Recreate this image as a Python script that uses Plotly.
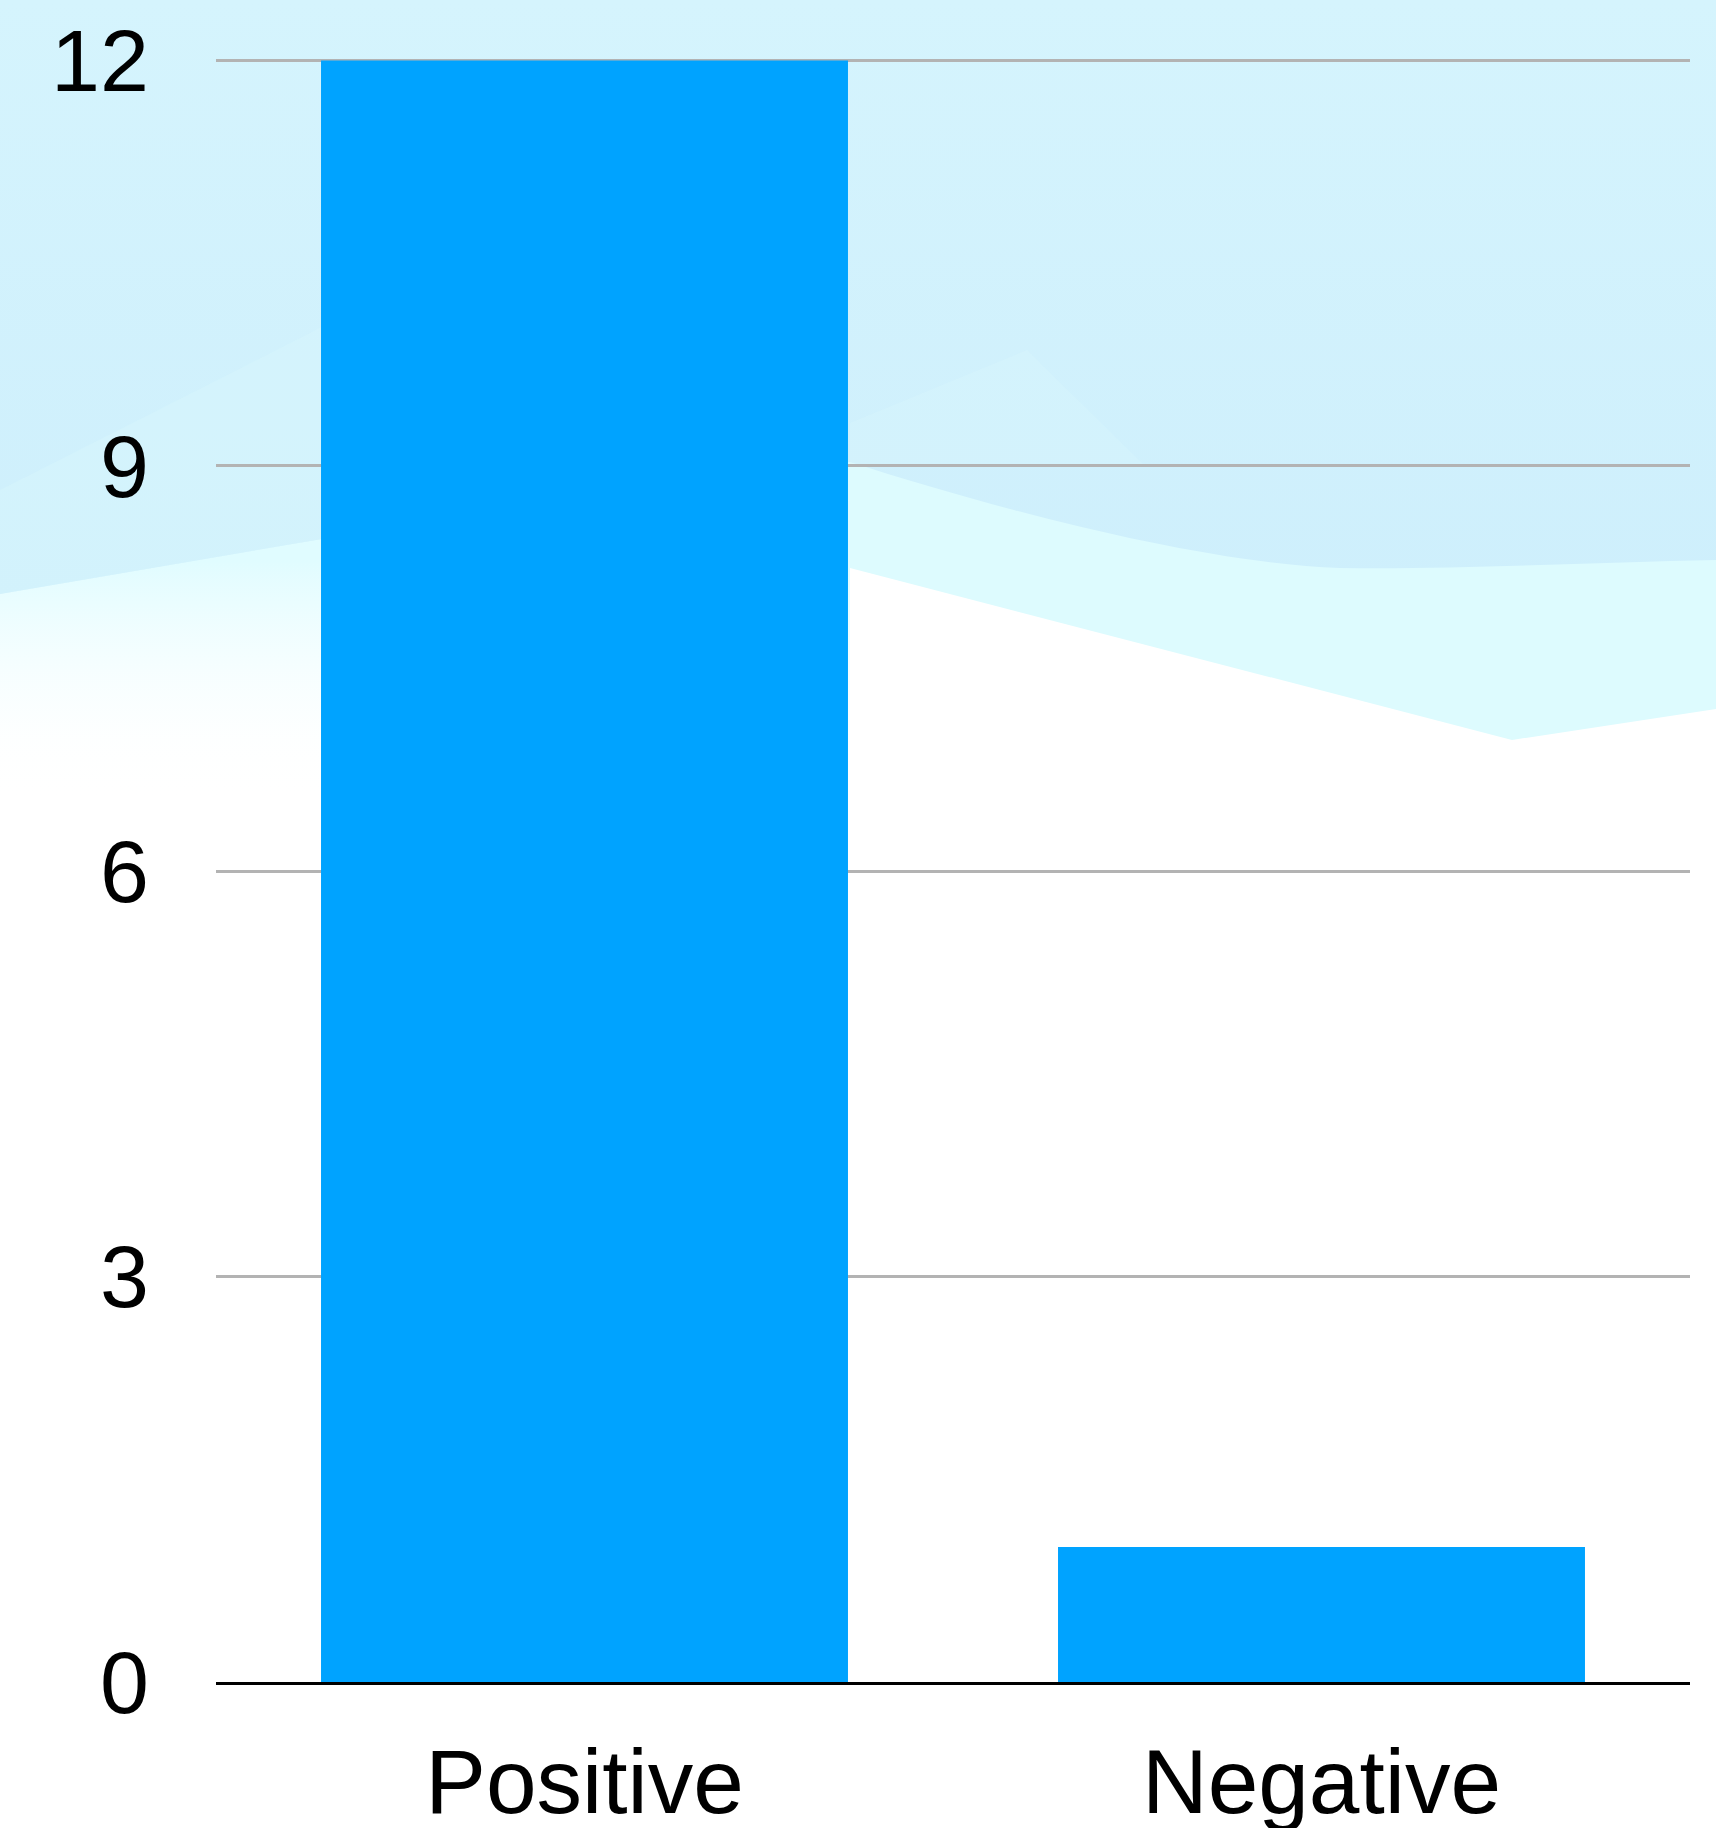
import base64
import plotly.graph_objects as go

# Review sentiment counts
categories = ["Positive", "Negative"]
counts = [12, 1]
y_ticks = [0, 3, 6, 9, 12]

W, H = 1716, 1828
M_L, M_R, M_T, M_B = 216, 26, 59, 146
PLOT_W = W - M_L - M_R
PLOT_H = H - M_T - M_B
Y_TOP = 12.012  # a hair above the top tick so its grid line is kept

FONT = "Liberation Sans, Arial, Helvetica, sans-serif"

# Soft sky-blue wave backdrop behind the whole figure
backdrop = f"""<svg xmlns="http://www.w3.org/2000/svg" width="{W}" height="{H}" viewBox="0 0 {W} {H}">
<defs>
<linearGradient id="sky" gradientUnits="userSpaceOnUse" x1="0" y1="0" x2="0" y2="600">
<stop offset="0" stop-color="#D5F4FD"/><stop offset="1" stop-color="#CEEFFC"/>
</linearGradient>
<linearGradient id="mist" gradientUnits="userSpaceOnUse" x1="0" y1="560" x2="0" y2="800">
<stop offset="0" stop-color="#E0FCFF"/><stop offset="1" stop-color="#FFFFFF" stop-opacity="0"/>
</linearGradient>
</defs>
<rect width="{W}" height="{H}" fill="#FFFFFF"/>
<path d="M0,0 H1716 V709 L1512,740 L850,568 L322,500 L0,560 Z" fill="#DDFBFE"/>
<path d="M0,560 L850,500 L850,860 L0,860 Z" fill="#FFFFFF"/>
<path d="M0,560 L850,500 L850,860 L0,860 Z" fill="url(#mist)"/>
<path d="M0,0 H1716 V560 C1600,562 1450,570 1340,568 C1200,563 1000,510 850,462 L322,539 L0,594 Z" fill="url(#sky)"/>
<path d="M0,490 L322,327 L600,430 L322,539 L0,594 Z" fill="#DAF7FD" opacity="0.4"/>
<path d="M850,423 L1027,350 L1145,466 L850,466 Z" fill="#DAF7FD" opacity="0.35"/>
</svg>"""
backdrop_uri = "data:image/svg+xml;base64," + base64.b64encode(backdrop.encode()).decode()

fig = go.Figure(
    go.Bar(
        x=categories,
        y=counts,
        marker=dict(color="#00A3FF", line=dict(width=0)),
        hoverinfo="x+y",
    )
)

fig.update_layout(
    template="none",
    width=W,
    height=H,
    margin=dict(l=M_L, r=M_R, t=M_T, b=M_B, pad=0),
    paper_bgcolor="#FFFFFF",
    plot_bgcolor="rgba(0,0,0,0)",
    bargap=0.285,
    showlegend=False,
    font=dict(family=FONT, color="#000000"),
    images=[
        dict(
            source=backdrop_uri,
            xref="paper",
            yref="paper",
            x=-M_L / PLOT_W,
            y=1 + M_T / PLOT_H,
            sizex=W / PLOT_W,
            sizey=H / PLOT_H,
            xanchor="left",
            yanchor="top",
            sizing="stretch",
            layer="below",
        )
    ],
)

fig.update_xaxes(
    type="category",
    range=[-0.5, 1.5],
    showline=True,
    linecolor="#000000",
    linewidth=2.5,
    showgrid=False,
    zeroline=False,
    ticks="",
    tickfont=dict(family=FONT, size=91, color="#000000"),
    ticklabelstandoff=19,
    automargin=False,
)

fig.update_yaxes(
    range=[0, Y_TOP],
    tickvals=y_ticks,
    ticktext=[str(v) for v in y_ticks],
    showgrid=True,
    gridcolor="#B3B3B3",
    gridwidth=2.5,
    zeroline=False,
    showline=False,
    ticks="",
    tickfont=dict(family=FONT, size=88, color="#000000"),
    ticklabelstandoff=66,
    automargin=False,
)

fig.write_html("out.html")
